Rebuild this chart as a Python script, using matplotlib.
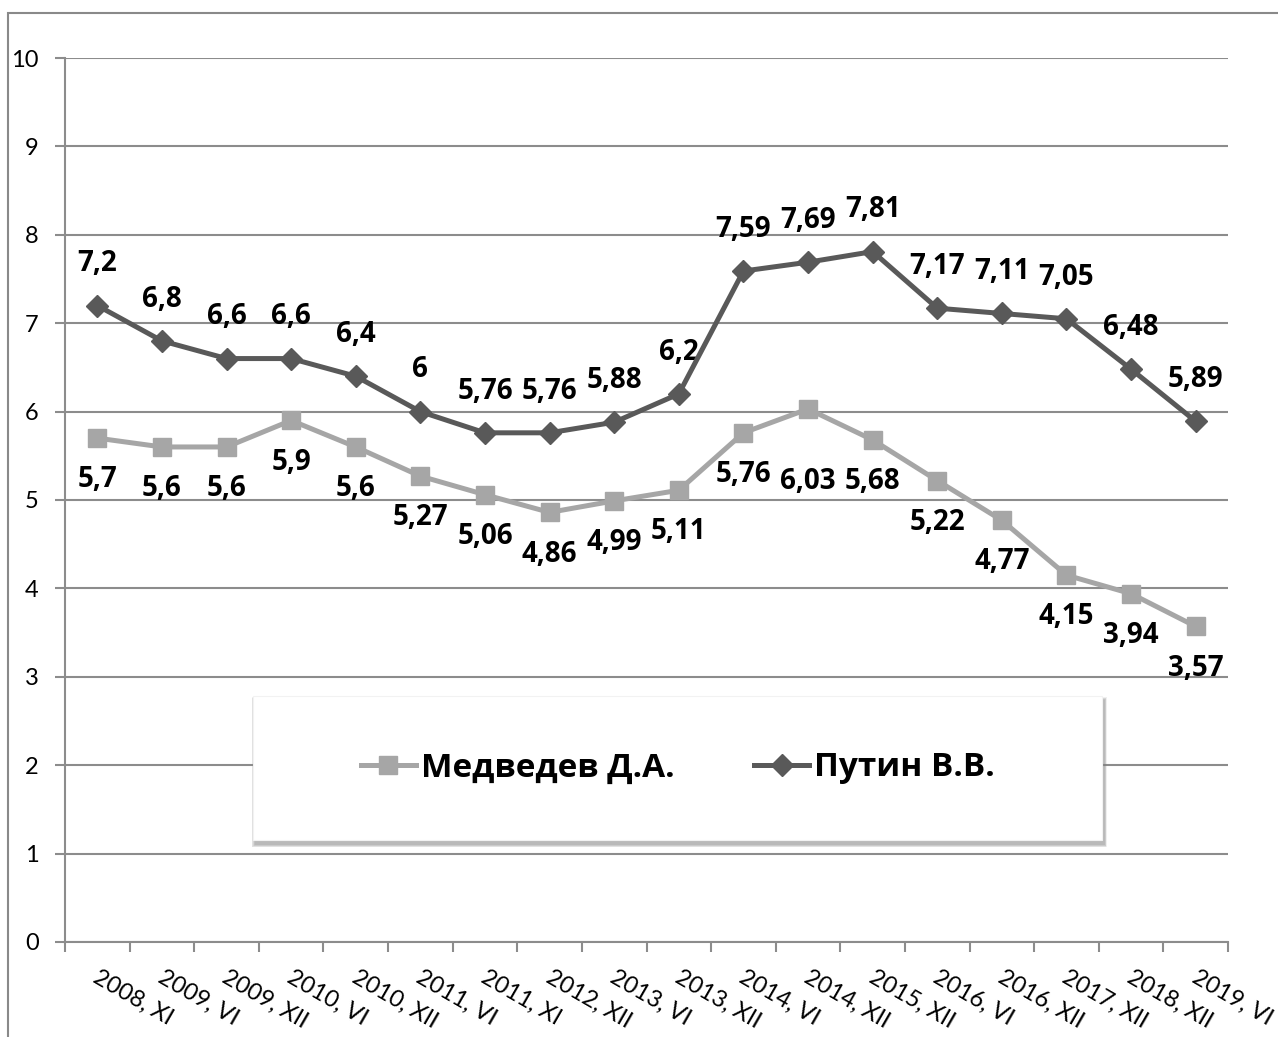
import matplotlib
matplotlib.use('Agg')
import matplotlib.pyplot as plt
from matplotlib.patches import Rectangle
from matplotlib.lines import Line2D
from matplotlib.transforms import ScaledTranslation

plt.rcParams['font.family'] = ['Lato', 'DejaVu Sans']
BOLD = ['Open Sans', 'DejaVu Sans']

periods = ['2008, XI', '2009, VI', '2009, XII', '2010, VI', '2010, XII', '2011, VI',
           '2011, XI', '2012, XII', '2013, VI', '2013, XII', '2014, VI', '2014, XII',
           '2015, XII', '2016, VI', '2016, XII', '2017, XII', '2018, XII', '2019, VI']
putin = [7.2, 6.8, 6.6, 6.6, 6.4, 6, 5.76, 5.76, 5.88, 6.2, 7.59, 7.69, 7.81,
         7.17, 7.11, 7.05, 6.48, 5.89]
medvedev = [5.7, 5.6, 5.6, 5.9, 5.6, 5.27, 5.06, 4.86, 4.99, 5.11, 5.76, 6.03,
            5.68, 5.22, 4.77, 4.15, 3.94, 3.57]

c_med = '#a6a6a6'
c_put = '#595959'
grid_c = '#8c8c8c'

fig = plt.figure(figsize=(12.78, 10.37), dpi=100)
ax = fig.add_axes([65/1278, 95/1037, 1163/1278, 884/1037])

# outer chart border
fig.patches.append(Rectangle((8/1278, -0.1), 1.2, (1037-13)/1037 + 0.1, transform=fig.transFigure,
                             fill=False, edgecolor='#898989', lw=1.5))

x = list(range(len(periods)))
ax.plot(x, medvedev, color=c_med, lw=3.6, marker='s', ms=13, zorder=3)
ax.plot(x, putin, color=c_put, lw=3.6, marker='D', ms=11, zorder=4)

def fmt(v):
    return ('%g' % v).replace('.', ',')

lbl_font = dict(fontsize=20, fontweight='bold', family=BOLD, ha='center', va='center',
                color='black')
for i, v in enumerate(putin):
    ax.annotate(fmt(v), (i, v), xytext=(0, 30), textcoords='offset points', **lbl_font)
med_off = [-30] * len(medvedev)
med_off[11] = -52
for i, v in enumerate(medvedev):
    ax.annotate(fmt(v), (i, v), xytext=(0, med_off[i]), textcoords='offset points', **lbl_font)

ax.set_xlim(-0.5, len(periods) - 0.5)
ax.set_ylim(0, 10)
ax.set_yticks(range(0, 11))
ax.yaxis.grid(True, color=grid_c, lw=1.5)
ax.set_axisbelow(True)
for s in ['top', 'right']:
    ax.spines[s].set_visible(False)
for s in ['left', 'bottom']:
    ax.spines[s].set_color(grid_c)
    ax.spines[s].set_linewidth(1.5)

ax.set_xticks([i - 0.5 for i in range(len(periods) + 1)])
ax.set_xticklabels([])
ax.set_xticks(x, minor=True)
ax.set_xticklabels(periods, minor=True, rotation=-30, ha='left', va='top',
                   rotation_mode='anchor', fontsize=17)
ax.tick_params(axis='x', which='minor', length=0, pad=18)
ax.tick_params(axis='x', which='major', length=7, width=1.5, color=grid_c)
ax.tick_params(axis='y', length=7, width=1.5, color=grid_c, labelsize=17, pad=12)
shift = ScaledTranslation(3/100, 0, fig.dpi_scale_trans)
for t in ax.get_xticklabels(minor=True):
    t.set_transform(t.get_transform() + shift)

# legend box with soft shadow
lx0, lx1 = (253-65)/1163, (1102-65)/1163
ly0, ly1 = (942-840)/884, (942-696)/884
px, py = 1/1163, 1/884
for k in range(6, 0, -1):
    ax.add_patch(Rectangle((lx0 + 2*px - k*px*0.5, ly0 - (4 + k*0.5)*py),
                           lx1 - lx0 + k*px, ly1 - ly0 + k*py,
                           transform=ax.transAxes, facecolor='#808080', edgecolor='none',
                           alpha=0.12, zorder=5))
ax.add_patch(Rectangle((lx0, ly0), lx1 - lx0, ly1 - ly0, transform=ax.transAxes,
                       facecolor='white', edgecolor='#f2f2f2', lw=0.8, zorder=6))
handles = [Line2D([], [], color=c_med, lw=3.6, marker='s', ms=13),
           Line2D([], [], color=c_put, lw=3.6, marker='D', ms=11)]
leg = ax.legend(handles, ['Медведев Д.А.', 'Путин В.В.'], loc='center',
                bbox_to_anchor=(0.527, (ly0 + ly1) / 2), ncol=2, frameon=False,
                prop=dict(size=24, weight='bold', family=BOLD), handlelength=1.65,
                handletextpad=0.15, columnspacing=2.4)
leg.set_zorder(7)

fig.savefig('out.png', dpi=100)
